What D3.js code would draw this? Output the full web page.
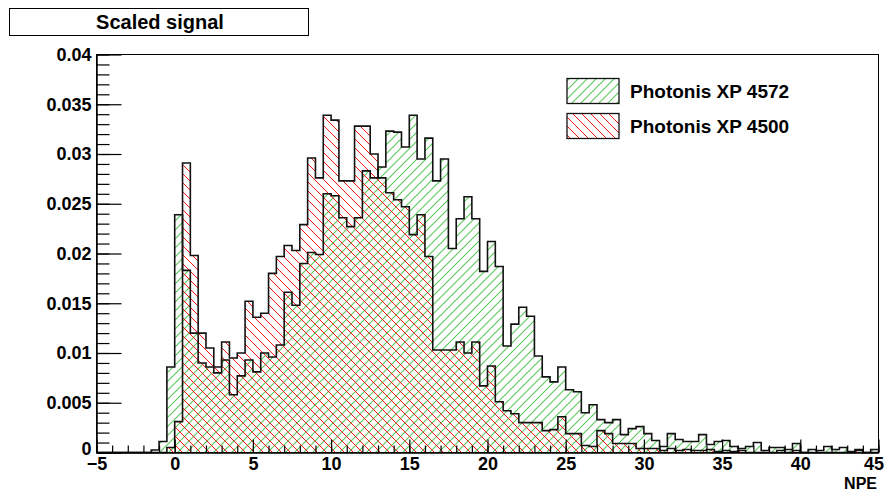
<!DOCTYPE html>
<html>
<head>
<meta charset="utf-8">
<script src="https://cdn.jsdelivr.net/npm/d3@7"></script>
<style>
  body { margin: 0; background: #fff; }
  text { font-family: "Liberation Sans", Arial, sans-serif; font-weight: bold; }
</style>
</head>
<body>
<script>
// histogram binning: 100 bins of 0.5 NPE from -5 to 45
let binLow = -5;
let binWidth = 0.5;

// Photonis XP 4572 (green, "///" hatch)
let xp4572 = [
  0, 0, 0, 0, 0, 0, 0, 0.00025, 0.0011, 0.0086,
  0.0239, 0.0183, 0.0120, 0.0090, 0.0086, 0.0080, 0.0093, 0.0058, 0.0077, 0.0093,
  0.0081, 0.0100, 0.0096, 0.0108, 0.0161, 0.0148, 0.0190, 0.0201, 0.0199, 0.0260,
  0.0258, 0.0236, 0.0227, 0.0236, 0.0283, 0.0276, 0.0287, 0.0323, 0.0322, 0.0307,
  0.0339, 0.0295, 0.0316, 0.0273, 0.0295, 0.0205, 0.0235, 0.0257, 0.0235, 0.0182,
  0.0212, 0.0187, 0.0107, 0.0129, 0.0146, 0.0137, 0.0097, 0.0076, 0.0071, 0.0086,
  0.0063, 0.0061, 0.0040, 0.0048, 0.0033, 0.0030, 0.0033, 0.0018, 0.0024, 0.0026,
  0.0019, 0.0012, 0.0006, 0.0019, 0.0013, 0.0011, 0.0011, 0.0018, 0.0008, 0.0011,
  0.0012, 0.0006, 0.0004, 0.0006, 0.0010, 0.0002, 0.0005, 0.0005, 0.0003, 0.0009,
  0, 0.0003, 0.0002, 0.0006, 0.0003, 0.0005, 0.0001, 0.0003, 0, 0.0003
];

// Photonis XP 4500 (red, "\\\" hatch)
let xp4500 = [
  0, 0, 0, 0, 0, 0, 0, 0, 0, 0.0005,
  0.0031, 0.0291, 0.0198, 0.0120, 0.0105, 0.0086, 0.0111, 0.0095, 0.0100, 0.0152,
  0.0136, 0.0140, 0.0180, 0.0197, 0.0208, 0.0203, 0.0229, 0.0296, 0.0276, 0.0339,
  0.0334, 0.0273, 0.0273, 0.0328, 0.0328, 0.0300, 0.0276, 0.0261, 0.0254, 0.0247,
  0.0219, 0.0239, 0.0197, 0.0103, 0.0103, 0.0103, 0.0111, 0.0100, 0.0111, 0.0067,
  0.0087, 0.0051, 0.0042, 0.0039, 0.0030, 0.0030, 0.0030, 0.0022, 0.0023, 0.0036,
  0.0019, 0.0019, 0.0007, 0.0006, 0.0022, 0.0019, 0.0009, 0.0009, 0.0009, 0.0004,
  0.0004, 0.0004, 0.0002, 0.0004, 0.0002, 0.0003, 0.0002, 0.0002, 0.0003, 0.0001,
  0.0002, 0.0001, 0.0002, 0, 0, 0, 0, 0.0002, 0, 0.0002,
  0, 0, 0, 0, 0, 0, 0, 0.0002, 0, 0
];

let yTicks = [0, 0.005, 0.01, 0.015, 0.02, 0.025, 0.03, 0.035, 0.04];
let yTickLabels = ["0", "0.005", "0.01", "0.015", "0.02", "0.025", "0.03", "0.035", "0.04"];
let xTicks = [-5, 0, 5, 10, 15, 20, 25, 30, 35, 40, 45];
let legendNames = ["Photonis XP 4572", "Photonis XP 4500"];

let svg = d3.select("body").append("svg")
  .attr("width", 886)
  .attr("height", 493);

// hatch patterns (ROOT 3004 / 3005 style)
let defs = svg.append("defs");
let gp = defs.append("pattern")
  .attr("id", "hGreen").attr("patternUnits", "userSpaceOnUse")
  .attr("width", 9).attr("height", 9);
gp.append("path")
  .attr("d", "M-2,2 L2,-2 M0,9 L9,0 M7,11 L11,7")
  .style("stroke", "rgb(90,200,90)").style("stroke-width", "1.1px").style("fill", "none");
let rp = defs.append("pattern")
  .attr("id", "hRed").attr("patternUnits", "userSpaceOnUse")
  .attr("width", 9).attr("height", 9);
rp.append("path")
  .attr("d", "M-2,7 L2,11 M0,0 L9,9 M7,-2 L11,2")
  .style("stroke", "rgb(255,20,20)").style("stroke-width", "1px").style("fill", "none");

let x = d3.scaleLinear().domain([-5, 45]).range([96.5, 878.5]);
let y = d3.scaleLinear().domain([0, 0.04]).range([452.5, 54.5]);

// title box
svg.append("rect")
  .attr("x", 9.5).attr("y", 8.5).attr("width", 299).attr("height", 27)
  .attr("fill", "white").attr("stroke", "black").attr("stroke-width", 1);
svg.append("text")
  .attr("x", 160).attr("y", 28.5)
  .attr("text-anchor", "middle")
  .attr("font-size", 20)
  .text("Scaled signal");

// frame
svg.append("rect")
  .attr("x", x(-5)).attr("y", y(0.04))
  .attr("width", x(45) - x(-5)).attr("height", y(0) - y(0.04))
  .attr("fill", "none").attr("stroke", "black").attr("stroke-width", 1);

// histogram outline points
function histPoints(vals) {
  let pts = [[binLow, 0]];
  vals.forEach((v, i) => {
    pts.push([binLow + i * binWidth, v]);
    pts.push([binLow + (i + 1) * binWidth, v]);
  });
  pts.push([binLow + vals.length * binWidth, 0]);
  return pts;
}

let line = d3.line()
  .x(d => x(d[0]))
  .y(d => y(d[1]));

let hists = [
  { vals: xp4572, fill: "url(#hGreen)" },
  { vals: xp4500, fill: "url(#hRed)" }
];

hists.forEach(h => {
  svg.append("path")
    .attr("d", line(histPoints(h.vals)) + "Z")
    .attr("fill", h.fill)
    .attr("stroke", "none");
});
hists.forEach(h => {
  svg.append("path")
    .attr("d", line(histPoints(h.vals)))
    .attr("fill", "none")
    .attr("stroke", "#111")
    .attr("stroke-width", 1.6)
    .attr("stroke-linejoin", "miter");
});

// y axis: minor then major
let yMinor = d3.range(0, 0.0401, 0.001);
svg.append("g")
  .attr("transform", "translate(" + x(-5) + ",0)")
  .call(d3.axisLeft(y).tickValues(yMinor).tickSize(-13).tickSizeOuter(0).tickFormat(""))
  .call(g => g.select(".domain").remove());
let yAxisG = svg.append("g")
  .attr("transform", "translate(" + x(-5) + ",0)")
  .call(d3.axisLeft(y).tickValues(yTicks).tickSize(-25).tickSizeOuter(0).tickPadding(5)
    .tickFormat((d, i) => yTickLabels[i]));
yAxisG.selectAll("text")
  .attr("font-size", 18)
  .attr("font-family", "Liberation Sans, Arial, sans-serif")
  .attr("font-weight", "bold")
  .attr("fill", "black")
  .attr("dy", d => d === 0 ? "0.1em" : "0.32em");
yAxisG.select(".domain").attr("stroke-width", 1.5);

// x axis: minor then major
let xMinor = d3.range(-5, 45.01, 1);
svg.append("g")
  .attr("transform", "translate(0," + y(0) + ")")
  .call(d3.axisBottom(x).tickValues(xMinor).tickSize(-7).tickSizeOuter(0).tickFormat(""))
  .call(g => g.select(".domain").remove());
let xAxisG = svg.append("g")
  .attr("transform", "translate(0," + y(0) + ")")
  .call(d3.axisBottom(x).tickValues(xTicks).tickSize(-13).tickSizeOuter(0).tickPadding(5)
    .tickFormat(d3.format("d")));
xAxisG.selectAll("text")
  .attr("font-size", 18)
  .attr("font-family", "Liberation Sans, Arial, sans-serif")
  .attr("font-weight", "bold")
  .attr("fill", "black")
  .attr("dx", d => d === 45 ? -5 : 0);
xAxisG.select(".domain").attr("stroke-width", 1.5);
svg.selectAll(".tick line").attr("stroke", "black").attr("stroke-width", 1.2);

svg.append("text")
  .attr("x", 877).attr("y", 489)
  .attr("text-anchor", "end")
  .attr("font-size", 16)
  .text("NPE");

// legend
let legendFills = ["url(#hGreen)", "url(#hRed)"];
legendNames.forEach((name, i) => {
  let yy = 78.5 + i * 35;
  svg.append("rect")
    .attr("x", 567).attr("y", yy).attr("width", 52).attr("height", 25)
    .attr("fill", legendFills[i]).attr("stroke", "#111").attr("stroke-width", 1.3);
  svg.append("text")
    .attr("x", 630).attr("y", yy + 19.5)
    .attr("font-size", 19)
    .text(name);
});
</script>
</body>
</html>
